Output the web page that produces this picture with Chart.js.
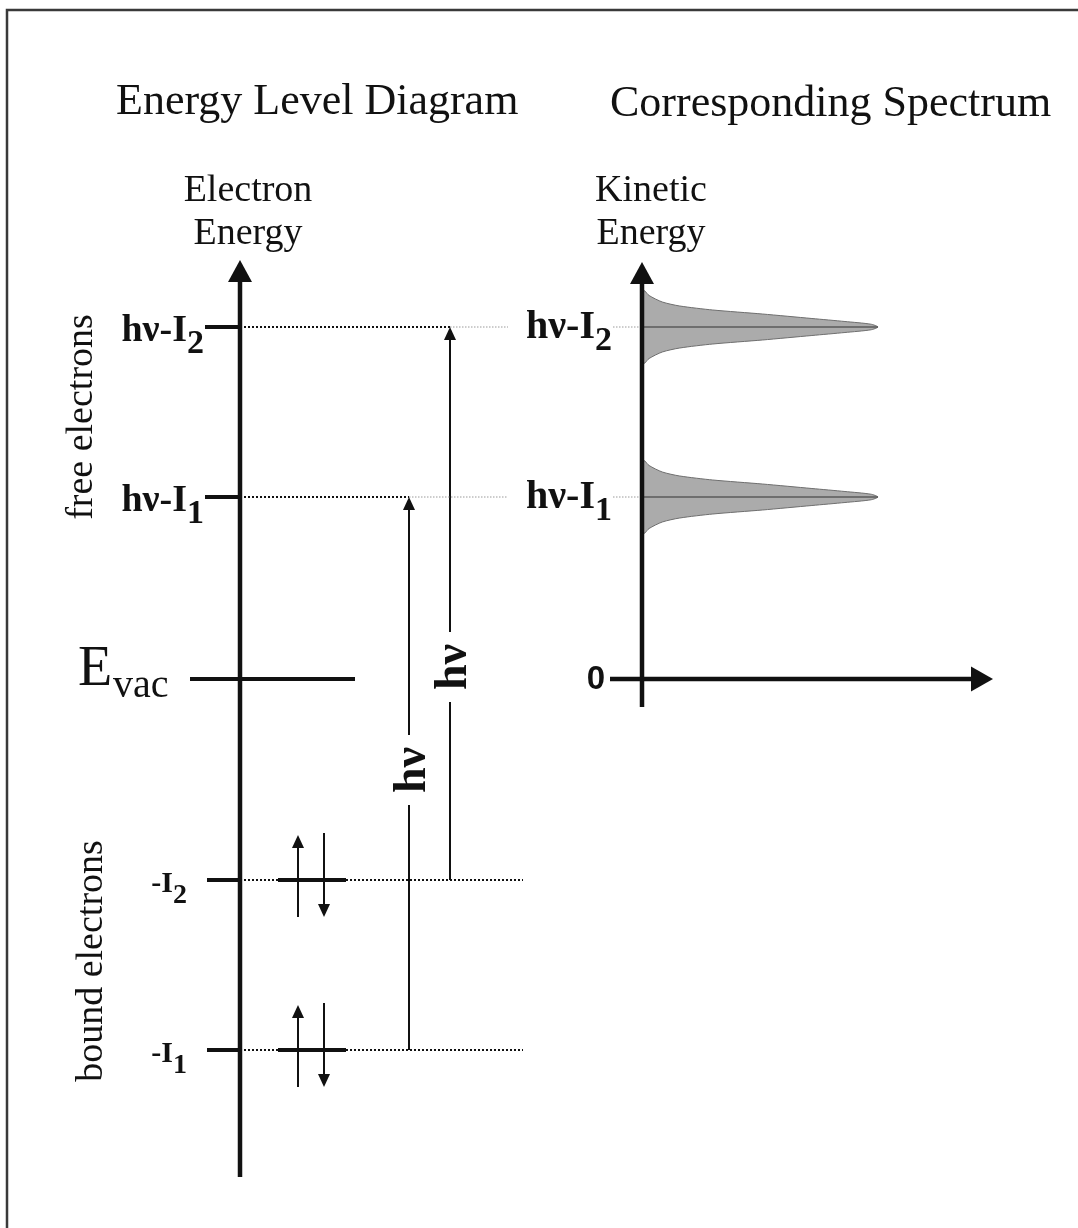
<!DOCTYPE html>
<html>
<head>
<meta charset="utf-8">
<script src="https://cdn.jsdelivr.net/npm/chart.js@4.4.1/dist/chart.umd.min.js"></script>
<style>
  html, body { margin: 0; padding: 0; background: #fff; }
  canvas { display: block; }
</style>
</head>
<body>
<canvas id="chart" width="1078" height="1228"></canvas>
<script>
// energy levels (arbitrary units, vacuum level = 0)
const vacuumLevel = 0;
const boundLevels = [-3.71, -2.01];   // -I1, -I2
const freeLevels = [1.82, 3.52];      // hν-I1, hν-I2
const levelSubscripts = ['1', '2'];

// photoelectron peak profile: offset from peak energy, relative intensity
const peakOffsets   = [-0.38, -0.36, -0.315, -0.25, -0.21, -0.17, -0.13, -0.085, -0.055, -0.028, 0,
                       0.028, 0.055, 0.085, 0.13, 0.17, 0.21, 0.25, 0.315, 0.36, 0.38];
const peakIntensity = [0, 0.012, 0.03, 0.086, 0.16, 0.30, 0.51, 0.72, 0.86, 0.97, 1,
                       0.97, 0.86, 0.72, 0.51, 0.30, 0.16, 0.086, 0.03, 0.012, 0];

const W = 1078, H = 1228;

// layout only (pixels along x, energies along y)
const L = {
  vacuumRow: 679,
  pxPerEnergy: 100,
  pxPerIntensity: 236,
  energyAxis: { x: 240, bottom: -4.98, top: 4.19 },
  spectrumAxis: { x: 642, bottom: -0.28, top: 4.17, left: 610, right: 993 },
  freeTickLeft: 205,
  boundTickLeft: 207,
  vacLeft: 190, vacRight: 355,
  orbitalLeft: 278, orbitalRight: 346,
  guideEnd: 523,
  transitionX: [409, 450],
  hvLabelAt: [-0.91, 0.12],
  hvGap: 0.35,
  rightLabelLeft: 508, rightLabelRight: 613,
  spin: { upX: 298, downX: 324, below: 37, above: 45, aboveDown: 47 },
  bigHead: 22, smallHead: 13,
};

const SERIF = '"Liberation Serif", "Times New Roman", Times, serif';
const SANS = '"Liberation Sans", Arial, sans-serif';
const ink = '#111';

const dotted = { borderColor: '#111', borderWidth: 2, borderDash: [2, 2] };
const faint = { borderColor: '#9a9a9a', borderWidth: 1, borderDash: [1.5, 1.5] };
const thick = { borderColor: ink, borderWidth: 4 };
const thin = { borderColor: ink, borderWidth: 2 };

function seg(x1, y1, x2, y2, style, xAxisID = 'x') {
  return Object.assign({
    data: [{ x: x1, y: y1 }, { x: x2, y: y2 }],
    xAxisID, yAxisID: 'y',
    showLine: true, pointRadius: 0, fill: false,
  }, style);
}

const datasets = [];

// ticks on the energy axis
freeLevels.forEach(e => datasets.push(seg(L.freeTickLeft, e, L.energyAxis.x, e, thick)));
boundLevels.forEach(e => datasets.push(seg(L.boundTickLeft, e, L.energyAxis.x, e, thick)));

// vacuum level
datasets.push(seg(L.vacLeft, vacuumLevel, L.vacRight, vacuumLevel, thick));

// occupied orbitals and their guides
boundLevels.forEach(e => {
  datasets.push(seg(L.orbitalLeft, e, L.orbitalRight, e, thick));
  datasets.push(seg(L.energyAxis.x, e, L.orbitalLeft, e, dotted));
  datasets.push(seg(L.orbitalRight, e, L.guideEnd, e, dotted));
});

// free electron guides towards the spectrum
freeLevels.forEach((e, i) => {
  datasets.push(seg(L.energyAxis.x, e, L.transitionX[i], e, dotted));
  datasets.push(seg(L.transitionX[i], e, L.rightLabelLeft, e, faint));
  datasets.push(seg(L.rightLabelRight, e, L.spectrumAxis.x, e, faint));
});

// photon transitions, broken where the hν label sits
boundLevels.forEach((e, i) => {
  const x = L.transitionX[i];
  datasets.push(seg(x, e, x, L.hvLabelAt[i] - L.hvGap, thin));
  datasets.push(seg(x, L.hvLabelAt[i] + L.hvGap, x, freeLevels[i] - L.smallHead / L.pxPerEnergy, thin));
});

// peak centre lines
freeLevels.forEach(e => datasets.push(seg(0, e, 1, e, { borderColor: '#5a5a5a', borderWidth: 1.5 }, 'xs')));

// spectrum peaks
freeLevels.forEach(e => datasets.push({
  data: peakOffsets.map((o, i) => ({ x: peakIntensity[i], y: e + o })),
  xAxisID: 'xs', yAxisID: 'y',
  showLine: true, pointRadius: 0, tension: 0.25,
  fill: 'shape',
  backgroundColor: '#ababab',
  borderColor: '#6e6e6e',
  borderWidth: 1,
}));

function line(ctx, x1, y1, x2, y2, w) {
  ctx.lineWidth = w;
  ctx.beginPath();
  ctx.moveTo(x1, y1);
  ctx.lineTo(x2, y2);
  ctx.stroke();
}

function head(ctx, x, y, dx, dy, len, half) {
  const bx = x - dx * len, by = y - dy * len;
  ctx.beginPath();
  ctx.moveTo(x, y);
  ctx.lineTo(bx - dy * half, by + dx * half);
  ctx.lineTo(bx + dy * half, by - dx * half);
  ctx.closePath();
  ctx.fill();
}

function subText(ctx, main, sub, right, base, size, subSize, drop) {
  ctx.textAlign = 'left';
  ctx.textBaseline = 'alphabetic';
  ctx.font = `bold ${subSize}px ${SERIF}`;
  const ws = ctx.measureText(sub).width;
  ctx.font = `bold ${size}px ${SERIF}`;
  const wm = ctx.measureText(main).width;
  ctx.fillText(main, right - ws - wm, base);
  ctx.font = `bold ${subSize}px ${SERIF}`;
  ctx.fillText(sub, right - ws, base + drop);
}

function rotated(ctx, text, x, y, font) {
  ctx.save();
  ctx.translate(x, y);
  ctx.rotate(-Math.PI / 2);
  ctx.font = font;
  ctx.textAlign = 'center';
  ctx.textBaseline = 'alphabetic';
  ctx.fillText(text, 0, 0);
  ctx.restore();
}

const diagram = {
  id: 'diagram',
  afterDatasetsDraw(chart) {
    const ctx = chart.ctx;
    const X = v => chart.scales.x.getPixelForValue(v);
    const Y = e => chart.scales.y.getPixelForValue(e);

    ctx.save();
    ctx.fillStyle = ink;
    ctx.strokeStyle = ink;
    ctx.lineCap = 'butt';
    ctx.setLineDash([]);

    // frame
    ctx.strokeStyle = '#3a3a3a';
    ctx.lineWidth = 2.5;
    ctx.strokeRect(7, 10, W + 20, H + 20);
    ctx.strokeStyle = ink;

    // energy axis
    const ea = L.energyAxis;
    line(ctx, X(ea.x), Y(ea.bottom), X(ea.x), Y(ea.top) + L.bigHead - 1, 4.5);
    head(ctx, X(ea.x), Y(ea.top), 0, -1, L.bigHead, 12);

    // spectrum axes
    const sa = L.spectrumAxis;
    line(ctx, X(sa.x), Y(sa.bottom), X(sa.x), Y(sa.top) + L.bigHead - 1, 4.5);
    head(ctx, X(sa.x), Y(sa.top), 0, -1, L.bigHead, 12);
    line(ctx, X(sa.left), Y(vacuumLevel), X(sa.right) - L.bigHead + 1, Y(vacuumLevel), 4.5);
    head(ctx, X(sa.right), Y(vacuumLevel), 1, 0, L.bigHead, 12.5);

    // transition arrowheads
    freeLevels.forEach((e, i) => head(ctx, X(L.transitionX[i]), Y(e), 0, -1, L.smallHead, 6));

    // electron spins
    const s = L.spin;
    boundLevels.forEach(e => {
      const y = Y(e);
      line(ctx, X(s.upX), y + s.below, X(s.upX), y - s.above + L.smallHead - 1, 2);
      head(ctx, X(s.upX), y - s.above, 0, -1, L.smallHead, 6);
      line(ctx, X(s.downX), y - s.aboveDown, X(s.downX), y + s.below - L.smallHead + 1, 2);
      head(ctx, X(s.downX), y + s.below, 0, 1, L.smallHead, 6);
    });

    // titles
    ctx.textBaseline = 'alphabetic';
    ctx.textAlign = 'left';
    ctx.font = `44px ${SERIF}`;
    ctx.fillText('Energy Level Diagram', 116, 114);
    ctx.fillText('Corresponding Spectrum', 610, 116);

    // axis titles
    ctx.textAlign = 'center';
    ctx.font = `38px ${SERIF}`;
    ctx.fillText('Electron', X(ea.x) + 8, 201);
    ctx.fillText('Energy', X(ea.x) + 8, 244);
    ctx.fillText('Kinetic', X(sa.x) + 9, 201);
    ctx.fillText('Energy', X(sa.x) + 9, 244);

    // level labels
    freeLevels.forEach((e, i) => {
      subText(ctx, 'hν-I', levelSubscripts[i], 204, Y(e) + 14, 38, 34, 12);
      subText(ctx, 'hν-I', levelSubscripts[i], L.rightLabelRight - 1, Y(e) + 11, 40, 34, 12);
    });
    boundLevels.forEach((e, i) => {
      subText(ctx, '-I', levelSubscripts[i], 187, Y(e) + 12, 30, 28, 11);
    });

    // vacuum level label
    ctx.textAlign = 'left';
    ctx.font = `56px ${SERIF}`;
    ctx.fillText('E', 78, Y(vacuumLevel) + 6);
    ctx.font = `40px ${SERIF}`;
    ctx.fillText('vac', 113, Y(vacuumLevel) + 18);

    // spectrum zero
    ctx.textAlign = 'right';
    ctx.textBaseline = 'middle';
    ctx.font = `bold 33px ${SANS}`;
    ctx.fillText('0', 605, Y(vacuumLevel) + 1);

    // photon energy labels on the transitions
    L.transitionX.forEach((x, i) => rotated(ctx, 'hν', X(x) + 16, Y(L.hvLabelAt[i]), `bold 46px ${SERIF}`));

    // state groups
    rotated(ctx, 'free electrons', 92, 417, `38px ${SERIF}`);
    rotated(ctx, 'bound electrons', 102, 961, `38px ${SERIF}`);

    ctx.restore();
  }
};

new Chart(document.getElementById('chart'), {
  type: 'scatter',
  data: { datasets },
  options: {
    responsive: false,
    animation: false,
    events: [],
    layout: { padding: 0 },
    plugins: { legend: { display: false }, tooltip: { enabled: false }, title: { display: false } },
    scales: {
      x: { type: 'linear', min: 0, max: W, display: false },
      xs: {
        type: 'linear', display: false,
        min: -L.spectrumAxis.x / L.pxPerIntensity,
        max: (W - L.spectrumAxis.x) / L.pxPerIntensity,
      },
      y: {
        type: 'linear', display: false,
        min: -(H - L.vacuumRow) / L.pxPerEnergy,
        max: L.vacuumRow / L.pxPerEnergy,
      },
    },
  },
  plugins: [diagram],
});
</script>
</body>
</html>
